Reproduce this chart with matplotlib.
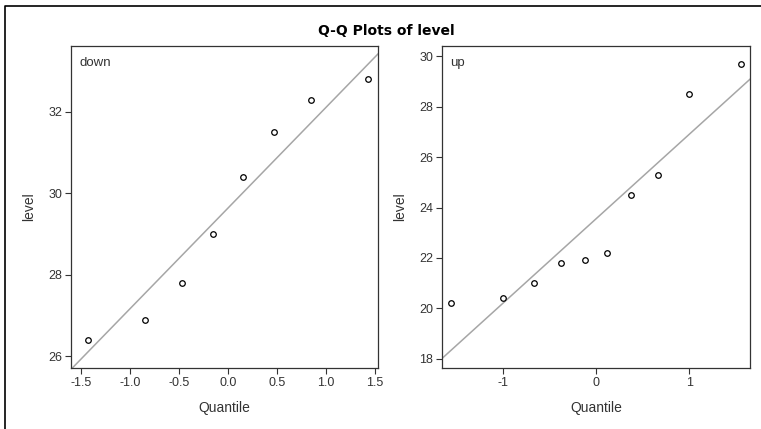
import matplotlib
matplotlib.use("Agg")

import matplotlib.pyplot as plt
import numpy as np
from matplotlib.lines import Line2D

# normal quantiles and sorted values
down_q = [-1.43, -0.85, -0.47, -0.15, 0.15, 0.47, 0.85, 1.43]
down_level = [26.4, 26.9, 27.8, 29.0, 30.4, 31.5, 32.3, 32.8]

up_q = [-1.55, -1.00, -0.66, -0.38, -0.12, 0.12, 0.38, 0.66, 1.00, 1.55]
up_level = [20.2, 20.4, 21.0, 21.8, 21.9, 22.2, 24.5, 25.3, 28.5, 29.7]

down_xticks = [-1.5, -1.0, -0.5, 0.0, 0.5, 1.0, 1.5]
down_yticks = [26, 28, 30, 32]
up_xticks = [-1, 0, 1]
up_yticks = [18, 20, 22, 24, 26, 28, 30]

plt.rcParams["font.family"] = ["Liberation Sans", "DejaVu Sans"]

fig = plt.figure(figsize=(7.61, 4.29), dpi=100)
ax1 = fig.add_axes([71 / 761, 1 - 368 / 429, 307 / 761, 322 / 429])
ax2 = fig.add_axes([442 / 761, 1 - 368 / 429, 308 / 761, 322 / 429])

panels = [
    (ax1, "down", down_q, down_level, down_xticks, down_yticks,
     (-1.60, 1.53), (25.71, 33.62), "{:.1f}"),
    (ax2, "up", up_q, up_level, up_xticks, up_yticks,
     (-1.65, 1.65), (17.63, 30.41), "{:.0f}"),
]

for ax, name, q, vals, xt, yt, xl, yl, fmt in panels:
    mu = np.mean(vals)
    sd = np.std(vals, ddof=1)
    ax.axline((0, mu), slope=sd, color="#a6a6a6", lw=1.1, zorder=1)
    ax.plot(q, vals, "o", ms=4, mfc="white", mec="black", mew=0.9, zorder=2)
    ax.set_xlim(*xl)
    ax.set_ylim(*yl)
    ax.set_xticks(xt)
    ax.set_xticklabels([fmt.format(v) for v in xt])
    ax.set_yticks(yt)
    ax.tick_params(length=4.5, width=0.8, pad=2, labelsize=9,
                   color="#333333", labelcolor="#333333")
    for s in ax.spines.values():
        s.set_color("#333333")
        s.set_linewidth(0.9)
    ax.set_xlabel("Quantile", fontsize=10, color="#333333")
    ax.set_ylabel("level", fontsize=10, color="#333333")
    ax.xaxis.set_label_coords(0.5, -0.125)
    ax.xaxis.label.set_va("center")
    ax.yaxis.set_label_coords(-0.137, 0.5)
    ax.yaxis.label.set_va("center")
    ax.text(0.027, 0.946, name, transform=ax.transAxes, fontsize=9.5,
            color="#333333", va="center", ha="left")

fig.text(0.507, 1 - 31 / 429, "Q-Q Plots of level", ha="center", va="center",
         fontsize=10, fontweight="bold", family="DejaVu Sans")

# outer frame (top and left edges only visible)
fig.add_artist(Line2D([5 / 761, 5 / 761, 1.01], [-0.01, 1 - 6 / 429, 1 - 6 / 429],
                      transform=fig.transFigure, color="black", lw=1.2))

fig.savefig("out.png", dpi=100)
plt.close(fig)
